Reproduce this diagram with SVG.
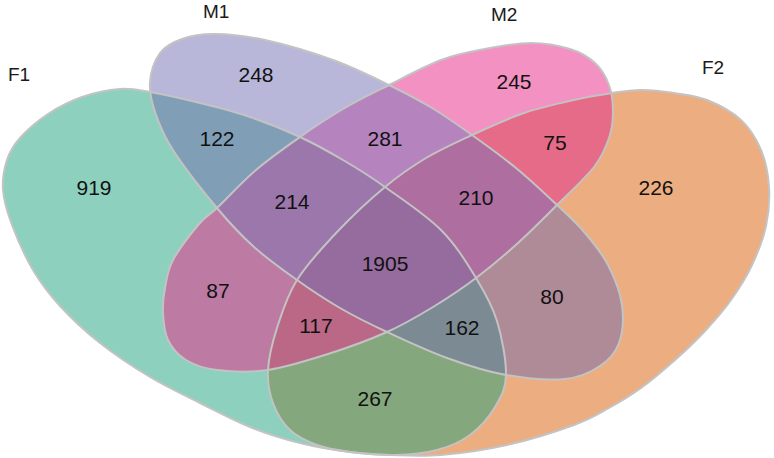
<svg xmlns="http://www.w3.org/2000/svg" xmlns:xlink="http://www.w3.org/1999/xlink" width="774" height="458" viewBox="0 0 774 458">
<style>
.lab{font-family:"Liberation Sans",Arial,sans-serif;font-size:19px;fill:#1a1a1a}
.num{font-family:"Liberation Sans",Arial,sans-serif;font-size:21px;fill:#111;text-anchor:middle}
.ol{fill:none;stroke:#c3c3c3;stroke-width:2}
</style>
<defs>
<path id="pF1" d="M120,89 C131.3,88.2 136.7,89.7 150,92 C163.3,94.3 183.3,98.8 200,103 C216.7,107.2 233.3,111.3 250,117 C266.7,122.7 284.5,129.8 300,137 C315.5,144.2 328.8,151.7 343,160 C357.2,168.3 368.7,175.3 385,187 C401.3,198.7 425.8,214.8 441,230 C456.2,245.2 466.7,262.8 476,278 C485.3,293.2 492,304.8 497,321 C502,337.2 506.3,360.7 506,375 C505.7,389.3 501,397 495,407 C489,417 479.7,427.8 470,435 C460.3,442.2 449.5,446.7 437,450 C424.5,453.3 409.5,454.7 395,455 C380.5,455.3 365.8,454 350,452 C334.2,450 316.7,447.2 300,443 C283.3,438.8 266.7,433.7 250,427 C233.3,420.3 216.7,411.3 200,403 C183.3,394.7 166.7,387 150,377 C133.3,367 115,354.8 100,343 C85,331.2 71.2,318.2 60,306 C48.8,293.8 41,283.5 33,270 C25,256.5 17,238.3 12,225 C7,211.7 3.8,200.8 3,190 C2.2,179.2 4.2,168.7 7,160 C9.8,151.3 13.2,145.7 20,138 C26.8,130.3 37.7,120.8 48,114 C58.3,107.2 70,101.2 82,97 C94,92.8 108.7,89.8 120,89 Z"/>
<path id="pM1" d="M150,82 C150.8,72.2 154.7,60.2 160,53 C165.3,45.8 172.8,42.2 182,39 C191.2,35.8 201.2,33.8 215,34 C228.8,34.2 245.3,35.7 265,40 C284.7,44.3 312.3,52.5 333,60 C353.7,67.5 372.5,77 389,85 C405.5,93 418.2,99.7 432,108 C445.8,116.3 458,125 472,135 C486,145 501.8,156.3 516,168 C530.2,179.7 545.5,194.2 557,205 C568.5,215.8 576.5,223 585,233 C593.5,243 601.8,253 608,265 C614.2,277 620.2,292 622,305 C623.8,318 622.7,332.8 619,343 C615.3,353.2 609,360 600,366 C591,372 580.7,377.5 565,379 C549.3,380.5 525.7,378.5 506,375 C486.3,371.5 466.8,365.2 447,358 C427.2,350.8 404.8,340.3 387,332 C369.2,323.7 355,316.7 340,308 C325,299.3 311.3,290.2 297,280 C282.7,269.8 267.3,259 254,247 C240.7,235 230.5,224.2 217,208 C203.5,191.8 183.3,166 173,150 C162.7,134 158.8,123.3 155,112 C151.2,100.7 149.2,91.8 150,82 Z"/>
<path id="pM2" d="M389,85 C405.3,76.8 425,66 441,60 C457,54 470,51.8 485,49 C500,46.2 516.8,43 531,43 C545.2,43 559.3,45.7 570,49 C580.7,52.3 588.5,57 595,63 C601.5,69 606,76.8 609,85 C612,93.2 613,103.2 613,112 C613,120.8 612.2,128.8 609,138 C605.8,147.2 602.7,155.8 594,167 C585.3,178.2 569.7,192.3 557,205 C544.3,217.7 531.5,230.8 518,243 C504.5,255.2 490.2,267.3 476,278 C461.8,288.7 447.8,298 433,307 C418.2,316 404.5,324.2 387,332 C369.5,339.8 347.8,347.7 328,354 C308.2,360.3 286.5,367.3 268,370 C249.5,372.7 230.7,371.7 217,370 C203.3,368.3 194.2,365 186,360 C177.8,355 171.8,347.8 168,340 C164.2,332.2 163.5,321.7 163,313 C162.5,304.3 163.3,296.8 165,288 C166.7,279.2 167.3,270.7 173,260 C178.7,249.3 191.7,232.7 199,224 C206.3,215.3 207.5,217 217,208 C226.5,199 242.2,181.8 256,170 C269.8,158.2 285.5,147.2 300,137 C314.5,126.8 328.2,117.7 343,109 C357.8,100.3 372.7,93.2 389,85 Z"/>
<path id="pF2" d="M612,93 C623.2,91.3 630.7,90 641,90 C651.3,90 663,91.3 674,93 C685,94.7 695.8,95.5 707,100 C718.2,104.5 732,111.7 741,120 C750,128.3 756.3,138.8 761,150 C765.7,161.2 768.2,174.3 769,187 C769.8,199.7 768.8,213 766,226 C763.2,239 757.8,252.7 752,265 C746.2,277.3 738.8,289 731,300 C723.2,311 714.3,321 705,331 C695.7,341 685.7,350.5 675,360 C664.3,369.5 652,380 641,388 C630,396 620.2,401.8 609,408 C597.8,414.2 591,418.8 574,425 C557,431.2 529.2,440 507,445 C484.8,450 460.5,453.3 441,455 C421.5,456.7 405.2,455.5 390,455 C374.8,454.5 362.2,453.7 350,452 C337.8,450.3 327,448.7 317,445 C307,441.3 297.3,437 290,430 C282.7,423 276.7,413 273,403 C269.3,393 267.3,382.5 268,370 C268.7,357.5 272.2,343 277,328 C281.8,313 286.8,296.2 297,280 C307.2,263.8 323.3,246.5 338,231 C352.7,215.5 370.3,199.2 385,187 C399.7,174.8 411.5,166.7 426,158 C440.5,149.3 455.7,142.5 472,135 C488.3,127.5 507,118.8 524,113 C541,107.2 559.3,103.3 574,100 C588.7,96.7 600.8,94.7 612,93 Z"/>
<clipPath id="cF1"><use href="#pF1"/></clipPath>
<clipPath id="cM1"><use href="#pM1"/></clipPath>
<clipPath id="cM2"><use href="#pM2"/></clipPath>
<clipPath id="cF2"><use href="#pF2"/></clipPath>
<clipPath id="cM1M2" clip-path="url(#cM1)"><use href="#pM2"/></clipPath>
<clipPath id="cF1F2" clip-path="url(#cF1)"><use href="#pF2"/></clipPath>
<clipPath id="cM1M2F2" clip-path="url(#cM1M2)"><use href="#pF2"/></clipPath>
</defs>
<g id="F1"><use href="#pF1" fill="#8ed0be"/><text class="lab" x="8" y="81">F1</text><text class="num" x="94" y="195">919</text></g>
<g id="M1"><use href="#pM1" fill="#b9b7d9"/><text class="lab" x="203" y="18">M1</text><text class="num" x="256" y="82">248</text></g>
<g id="M2"><use href="#pM2" fill="#f291c2"/><text class="lab" x="491" y="21">M2</text><text class="num" x="514" y="89">245</text></g>
<g id="F2"><use href="#pF2" fill="#ecae80"/><text class="lab" x="702" y="74">F2</text><text class="num" x="656" y="195">226</text></g>
<g id="F1-M1"><use href="#pF1" clip-path="url(#cM1)" fill="#809fb6"/><text class="num" x="217" y="146">122</text></g>
<g id="F1-M2"><use href="#pF1" clip-path="url(#cM2)" fill="#bd7aa3"/><text class="num" x="218" y="298">87</text></g>
<g id="F1-F2"><use href="#pF1" clip-path="url(#cF2)" fill="#85a77e"/><text class="num" x="375" y="406">267</text></g>
<g id="M1-M2"><use href="#pM1" clip-path="url(#cM2)" fill="#b584be"/><text class="num" x="385" y="146">281</text></g>
<g id="M1-F2"><use href="#pM1" clip-path="url(#cF2)" fill="#af8b98"/><text class="num" x="552" y="304">80</text></g>
<g id="M2-F2"><use href="#pM2" clip-path="url(#cF2)" fill="#e56b88"/><text class="num" x="555" y="150">75</text></g>
<g id="F1-M1-M2"><use href="#pF1" clip-path="url(#cM1M2)" fill="#9b77ab"/><text class="num" x="292" y="209">214</text></g>
<g id="F1-M1-F2"><use href="#pM1" clip-path="url(#cF1F2)" fill="#7c8b93"/><text class="num" x="462" y="335">162</text></g>
<g id="F1-M2-F2"><use href="#pM2" clip-path="url(#cF1F2)" fill="#ba6886"/><text class="num" x="316" y="333">117</text></g>
<g id="M1-M2-F2"><use href="#pF2" clip-path="url(#cM1M2)" fill="#ae6e9f"/><text class="num" x="476" y="205">210</text></g>
<g id="F1-M1-M2-F2"><use href="#pF1" clip-path="url(#cM1M2F2)" fill="#966b9e"/><text class="num" x="385" y="271">1905</text></g>
<g id="outlines">
<use href="#pF1" class="ol"/>
<use href="#pM1" class="ol"/>
<use href="#pM2" class="ol"/>
<use href="#pF2" class="ol"/>
</g>
</svg>
